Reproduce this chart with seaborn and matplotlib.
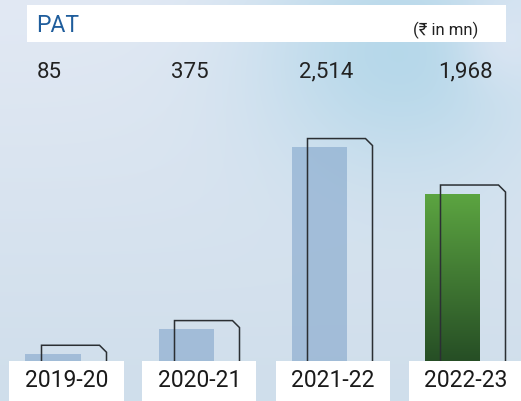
import numpy as np
import matplotlib
matplotlib.use("Agg")
import matplotlib.pyplot as plt
from matplotlib.colors import LinearSegmentedColormap, to_rgb
from matplotlib.patches import Rectangle
import seaborn as sns

sns.set_theme(style="white")
plt.rcParams['font.family'] = ['Roboto', 'DejaVu Sans']

years = ['2019-20', '2020-21', '2021-22', '2022-23']
pat = [85, 375, 2514, 1968]
value_labels = ['85', '375', '2,514', '1,968']

W, H = 521, 402
fig = plt.figure(figsize=(W / 100, H / 100), dpi=100)

# background: pale blue sky with a cyan haze upper right
bg = fig.add_axes([0, 0, 1, 1])
yy, xx = np.mgrid[0:H, 0:W]
top = np.array(to_rgb('#e2e9f4'))
bot = np.array(to_rgb('#cfdeeb'))
t = (yy / H)[..., None]
img = top * (1 - t) + bot * t
blob = np.exp(-(((xx - 400) / 150.0) ** 2 + ((yy - 50) / 130.0) ** 2))[..., None] * 0.75
img = img * (1 - blob) + np.array(to_rgb('#a9d3e7')) * blob
corner = np.exp(-(((xx - 505) / 45.0) ** 2 + ((yy - 40) / 50.0) ** 2))[..., None] * 0.6
img = img * (1 - corner) + np.array(to_rgb('#e3e8f5')) * corner
bg.imshow(img, aspect='auto', extent=[0, 1, 0, 1], origin='upper')
bg.axis('off')

ax = fig.add_axes([0, 0, 1, 1])
ax.patch.set_alpha(0)

px_x = 133.0            # pixels per category
px_y = 0.0851           # pixels per value unit
bw = 55 / px_x

colors = ['#80a4ca', '#80a4ca', '#80a4ca', '#4a8a3a']
sns.barplot(x=years, y=pat, hue=years, palette=colors, width=bw,
            saturation=1, legend=False, ax=ax, zorder=2)

green = LinearSegmentedColormap.from_list('g', ['#264e25', '#5ca541'])
bars = [c.patches[0] for c in ax.containers]
for i, b in enumerate(bars):
    b.set_edgecolor('none')
    if i < 3:
        b.set_alpha(0.58)
    else:
        x0 = b.get_x()
        grad = np.linspace(0, 1, 256).reshape(-1, 1)
        im = ax.imshow(grad, extent=[x0, x0 + b.get_width(), 0, b.get_height()],
                       origin='lower', aspect='auto', cmap=green, zorder=3)
        im.set_clip_path(b)

# offset outline frames with a clipped top-right corner
for i, v in enumerate(pat):
    left = i - bw / 2 + 16 / px_x
    right = left + 65 / px_x
    topv = v + 8.5 / px_y
    cx, cy = 7 / px_x, 7 / px_y
    ax.plot([left, left, right - cx, right, right],
            [0, topv, topv, topv - cy, 0],
            color='#2b2f33', lw=1.1, zorder=4, solid_joinstyle='miter')

# year label boxes
for i, yr in enumerate(years):
    ax.add_patch(Rectangle((i - 43.5 / px_x, -600), 114 / px_x, 600,
                           facecolor='white', edgecolor='none', zorder=5))
    ax.text(i + 13.5 / px_x, -19 / px_y, yr, ha='center', va='center',
            fontsize=16.5, color='#1a1a1a', zorder=6)

# values
val_dx = [-4, 4, 7, 13]
for i, lab in enumerate(value_labels):
    ax.text(i + val_dx[i] / px_x, (362 - 72) / px_y, lab, ha='center', va='center',
            fontsize=16, color='#222222', zorder=6)

# title strip
ax.add_patch(Rectangle((27 / W, 1 - 43 / H), 479 / W, 37 / H, transform=ax.transAxes,
                       facecolor='white', edgecolor='none', zorder=5))
ax.text(36 / W, 1 - 25 / H, 'PAT', transform=ax.transAxes, ha='left', va='center',
        fontsize=16.5, color='#1f5d9c', zorder=6)
ax.text(478 / W, 1 - 30 / H, '(₹ in mn)', transform=ax.transAxes, ha='right', va='center',
        fontsize=12, color='#222222', zorder=6)

ax.set_xlim(-53 / px_x, (W - 53) / px_x)
ax.set_ylim(-40 / px_y, 362 / px_y)
ax.axis('off')

fig.savefig('out.png', dpi=100)
